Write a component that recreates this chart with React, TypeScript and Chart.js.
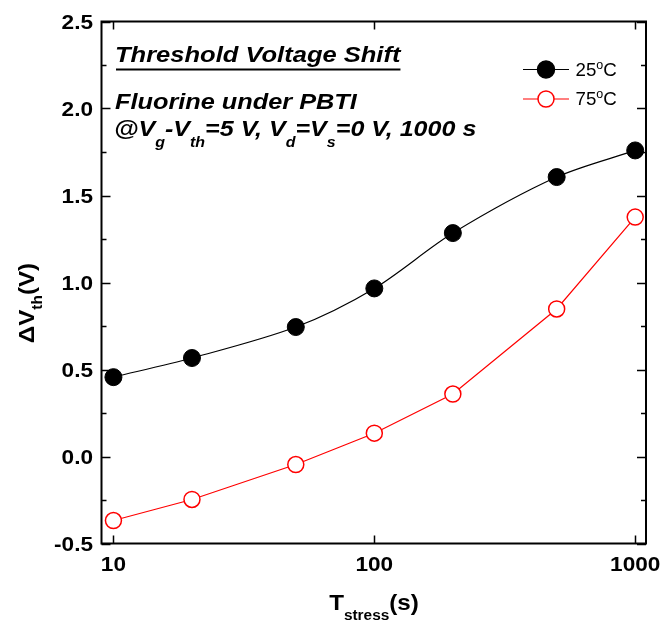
import React, { useEffect, useRef } from "react";
import { Chart, registerables } from "chart.js";

Chart.register(...registerables);

const stressTimes = [10, 20, 50, 100, 200, 500, 1000];
const dVth25 = [0.456, 0.566, 0.744, 0.966, 1.284, 1.606, 1.759];
const dVth75 = [-0.368, -0.247, -0.046, 0.134, 0.359, 0.848, 1.376];
const yMajorTicks = [-0.5, 0.0, 0.5, 1.0, 1.5, 2.0, 2.5];
const yMinorTicks = [-0.25, 0.25, 0.75, 1.25, 1.75, 2.25];
const xMajorTicks = [10, 100, 1000];
const seriesLabels = ["25", "75"];

const FAM = '"Liberation Sans", Arial, sans-serif';

type Seg = { t: string; font: string; dy?: number };

function richWidth(ctx: CanvasRenderingContext2D, segs: Seg[], sx: number) {
  let w = 0;
  for (const s of segs) {
    ctx.font = s.font;
    w += ctx.measureText(s.t).width * sx;
  }
  return w;
}

function drawRich(
  ctx: CanvasRenderingContext2D,
  segs: Seg[],
  x: number,
  y: number,
  sx: number,
  align: "left" | "center" | "right" = "left",
  color = "#000"
) {
  const w = richWidth(ctx, segs, sx);
  let cx = align === "center" ? x - w / 2 : align === "right" ? x - w : x;
  ctx.save();
  ctx.fillStyle = color;
  ctx.textAlign = "left";
  ctx.textBaseline = "alphabetic";
  for (const s of segs) {
    ctx.font = s.font;
    const sw = ctx.measureText(s.t).width * sx;
    ctx.save();
    ctx.translate(cx, y + (s.dy || 0));
    ctx.scale(sx, 1);
    ctx.fillText(s.t, 0, 0);
    ctx.restore();
    cx += sw;
  }
  ctx.restore();
  return w;
}

const decorPlugin = {
  id: "decor",
  afterDraw(chart: any) {
    const ctx: CanvasRenderingContext2D = chart.ctx;
    const { left, right, top, bottom } = chart.chartArea;
    const xs = chart.scales.x;
    const ys = chart.scales.y;
    ctx.save();
    // frame
    ctx.strokeStyle = "#000";
    ctx.lineWidth = 2;
    ctx.strokeRect(left, top, right - left, bottom - top);
    // ticks
    ctx.lineWidth = 1.5;
    ctx.beginPath();
    for (const v of yMajorTicks) {
      const py = Math.round(ys.getPixelForValue(v)) + 0.5;
      ctx.moveTo(left, py);
      ctx.lineTo(left + 9, py);
      ctx.moveTo(right, py);
      ctx.lineTo(right - 9, py);
    }
    for (const v of yMinorTicks) {
      const py = Math.round(ys.getPixelForValue(v)) + 0.5;
      ctx.moveTo(left, py);
      ctx.lineTo(left + 5, py);
      ctx.moveTo(right, py);
      ctx.lineTo(right - 5, py);
    }
    for (const v of xMajorTicks) {
      const px = Math.round(xs.getPixelForValue(v)) + 0.5;
      ctx.moveTo(px, bottom);
      ctx.lineTo(px, bottom - 8);
      ctx.moveTo(px, top);
      ctx.lineTo(px, top + 8);
    }
    ctx.stroke();

    // tick labels
    const tickFont = `bold 20px ${FAM}`;
    for (const v of yMajorTicks) {
      const py = ys.getPixelForValue(v);
      drawRich(ctx, [{ t: v.toFixed(1), font: tickFont }], 93, py + 7.2, 1.13, "right");
    }
    for (const v of xMajorTicks) {
      const px = xs.getPixelForValue(v);
      drawRich(ctx, [{ t: String(v), font: tickFont }], px, 570.5, 1.13, "center");
    }

    // x title
    const tF = `bold 22px ${FAM}`;
    const sF = `bold 14px ${FAM}`;
    drawRich(
      ctx,
      [
        { t: "T", font: tF },
        { t: "stress", font: sF, dy: 10 },
        { t: "(s)", font: tF },
      ],
      374,
      609.5,
      1.1,
      "center"
    );

    // y title (rotated)
    ctx.save();
    ctx.translate(34, 303);
    ctx.rotate(-Math.PI / 2);
    drawRich(
      ctx,
      [
        { t: "\u0394V", font: tF },
        { t: "th", font: sF, dy: 8 },
        { t: "(V)", font: tF },
      ],
      0,
      0,
      1.1,
      "center"
    );
    ctx.restore();

    // annotation text
    const bi = `italic bold 22px ${FAM}`;
    const bis = `italic bold 14px ${FAM}`;
    const w1 = drawRich(ctx, [{ t: "Threshold Voltage Shift", font: bi }], 115, 62, 1.16);
    ctx.fillStyle = "#000";
    ctx.fillRect(116, 68.5, w1 - 1, 2);
    drawRich(ctx, [{ t: "Fluorine under PBTI", font: bi }], 115, 109, 1.15);
    drawRich(
      ctx,
      [
        { t: "@V", font: bi },
        { t: "g", font: bis, dy: 11 },
        { t: "-V", font: bi },
        { t: "th", font: bis, dy: 11 },
        { t: "=5 V, V", font: bi },
        { t: "d", font: bis, dy: 11 },
        { t: "=V", font: bi },
        { t: "s", font: bis, dy: 11 },
        { t: "=0 V, 1000 s", font: bi },
      ],
      114,
      135.5,
      1.14
    );

    // legend
    const legendRows = [
      { y: 69.5, color: "#000", fill: "#000", r: 8.5, label: seriesLabels[0] },
      { y: 99, color: "#ff0000", fill: "#fff", r: 8, label: seriesLabels[1] },
    ];
    for (const row of legendRows) {
      ctx.strokeStyle = row.color;
      ctx.lineWidth = 1.2;
      ctx.beginPath();
      ctx.moveTo(523, row.y);
      ctx.lineTo(569, row.y);
      ctx.stroke();
      ctx.beginPath();
      ctx.arc(546, row.y, row.r, 0, Math.PI * 2);
      ctx.fillStyle = row.fill;
      ctx.fill();
      ctx.lineWidth = 1.5;
      ctx.stroke();
      const lf = `18px ${FAM}`;
      const lsf = `12px ${FAM}`;
      drawRich(
        ctx,
        [
          { t: row.label, font: lf },
          { t: "o", font: lsf, dy: -7 },
          { t: "C", font: lf },
        ],
        575.5,
        row.y + 6.3,
        1.04
      );
    }
    ctx.restore();
  },
};

export default function App() {
  const ref = useRef<HTMLCanvasElement | null>(null);
  useEffect(() => {
    document.body.style.margin = "0";
    const canvas = ref.current!;
    const chart = new Chart(canvas, {
      type: "line",
      data: {
        datasets: [
          {
            label: "25°C",
            data: stressTimes.map((x, i) => ({ x, y: dVth25[i] })),
            borderColor: "#000",
            backgroundColor: "#000",
            borderWidth: 1.2,
            pointRadius: 8.5,
            pointBorderWidth: 1,
            pointBackgroundColor: "#000",
            pointBorderColor: "#000",
            tension: 0.3,
          },
          {
            label: "75°C",
            data: stressTimes.map((x, i) => ({ x, y: dVth75[i] })),
            borderColor: "#ff0000",
            backgroundColor: "#fff",
            borderWidth: 1.2,
            pointRadius: 8,
            pointBorderWidth: 1.5,
            pointBackgroundColor: "#fff",
            pointBorderColor: "#ff0000",
            tension: 0,
          },
        ],
      },
      options: {
        responsive: false,
        animation: false,
        devicePixelRatio: 1,
        layout: { padding: { left: 101.5, top: 21.5, right: 16, bottom: 79.5 } },
        plugins: { legend: { display: false }, tooltip: { enabled: false } },
        scales: {
          x: { type: "logarithmic", min: 9, max: 1100, display: false },
          y: { type: "linear", min: -0.5, max: 2.5, display: false },
        },
      },
      plugins: [decorPlugin],
    } as any);
    return () => chart.destroy();
  }, []);
  return (
    <div style={{ width: 662, height: 623, background: "#fff" }}>
      <canvas ref={ref} width={662} height={623} style={{ display: "block" }} />
    </div>
  );
}
